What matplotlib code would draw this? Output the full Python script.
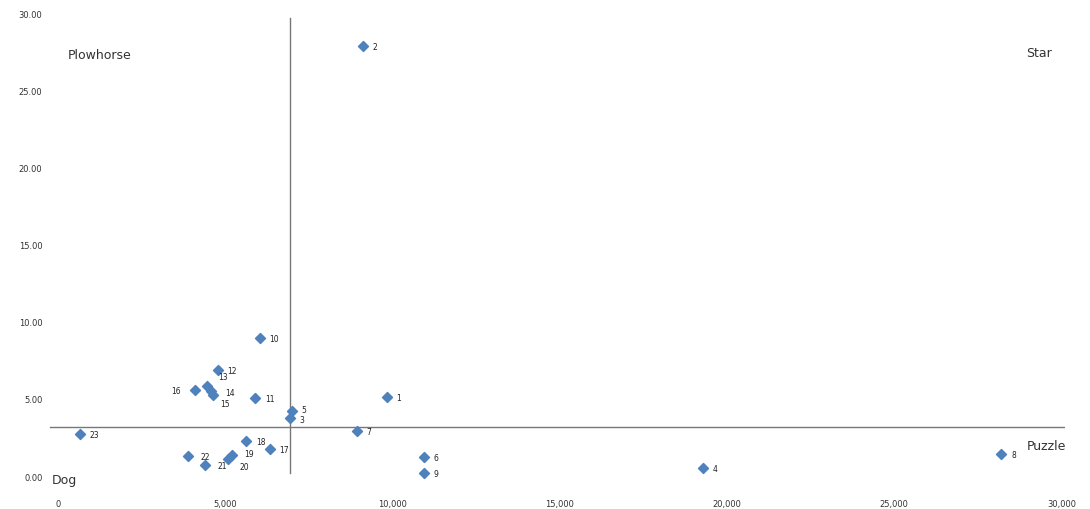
import matplotlib.pyplot as plt

# Menu engineering matrix: quantity sold (x) vs contribution margin (y)
item_ids = ['1', '2', '3', '4', '5', '6', '7', '8', '9', '10', '11', '12',
            '13', '14', '15', '16', '17', '18', '19', '20', '21', '22', '23']
quantity = [9830, 9110, 6930, 19270, 6990, 10930, 8930, 28200, 10930, 6030,
            5890, 4780, 4450, 4570, 4630, 4090, 6330, 5620, 5200, 5080,
            4390, 3880, 660]
margin = [5.18, 27.93, 3.82, 0.58, 4.28, 1.30, 2.98, 1.49, 0.26, 9.01,
          5.12, 6.93, 5.90, 5.57, 5.31, 5.64, 1.81, 2.33, 1.43, 1.17,
          0.78, 1.36, 2.79]

avg_quantity = 6930
avg_margin = 3.24

x_ticks = [0, 5000, 10000, 15000, 20000, 25000, 30000]
y_ticks = [0, 5, 10, 15, 20, 25, 30]

# label offsets in points (dx, dy), Excel-like placement
label_offsets = {
    '16': (-17, -1), '13': (8, 6), '14': (10, -2), '15': (5, -7),
    '3': (7, -2), '5': (7, 0), '20': (8, -6), '21': (9, -1),
    '19': (9, 0), '22': (9, -1),
}

fig = plt.figure(figsize=(10.9, 5.09), dpi=100)
ax = fig.add_axes([0.044, 0.0477, 0.933, 0.9306])

ax.scatter(quantity, margin, marker='D', s=26, color='#4F81BD', zorder=3)

for name, x, y in zip(item_ids, quantity, margin):
    dx, dy = label_offsets.get(name, (7, -1))
    ax.annotate(name, (x, y), xytext=(dx, dy), textcoords='offset points',
                fontsize=5.5, va='center', ha='left', color='#222222')

# quadrant lines at the averages
ax.axvline(avg_quantity, ymin=0.025, ymax=0.985, color='#777777', lw=1, zorder=1)
ax.axhline(avg_margin, xmin=0.002, xmax=1.0, color='#777777', lw=1, zorder=1)

ax.text(300, 27.3, 'Plowhorse', fontsize=9, va='center', color='#333333')
ax.text(28950, 27.45, 'Star', fontsize=9, va='center', color='#333333')
ax.text(28950, 2.0, 'Puzzle', fontsize=9, va='center', color='#333333')
ax.text(-180, -0.2, 'Dog', fontsize=9, va='center', color='#333333')

ax.set_xlim(-300, 30100)
ax.set_ylim(-0.5, 30.2)
ax.set_xticks(x_ticks)
ax.set_xticklabels([f'{v:,}' for v in x_ticks])
ax.set_yticks(y_ticks)
ax.set_yticklabels([f'{v:.2f}' for v in y_ticks])
ax.tick_params(length=0, labelsize=6, colors='#333333')
ax.tick_params(axis='x', pad=11)
ax.tick_params(axis='y', pad=4)
for spine in ax.spines.values():
    spine.set_visible(False)

plt.savefig('out.png', dpi=100)
plt.close()
